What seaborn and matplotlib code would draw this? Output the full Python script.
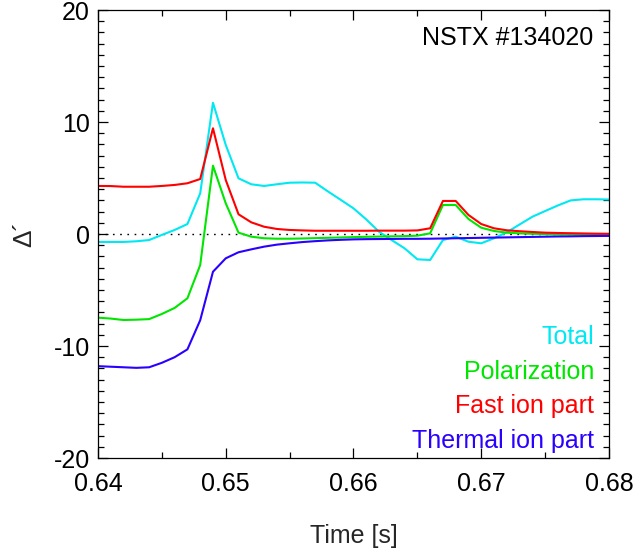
import numpy as np
import pandas as pd
import matplotlib
matplotlib.use("Agg")
import matplotlib.pyplot as plt
from matplotlib.ticker import MultipleLocator
import seaborn as sns

time = [0.640, 0.641, 0.642, 0.643, 0.644, 0.645, 0.646, 0.647, 0.648, 0.649,
        0.650, 0.651, 0.652, 0.653, 0.654, 0.655, 0.656, 0.657, 0.658, 0.659,
        0.660, 0.661, 0.662, 0.663, 0.664, 0.665, 0.666, 0.667, 0.668, 0.669,
        0.670, 0.671, 0.672, 0.673, 0.674, 0.675, 0.676, 0.677, 0.678, 0.679,
        0.680]

total = [-0.71, -0.71, -0.71, -0.65, -0.54, -0.08, 0.36, 0.89, 3.63, 11.72,
         7.95, 4.97, 4.44, 4.29, 4.44, 4.58, 4.60, 4.58, 3.80, 3.05,
         2.29, 1.30, 0.20, -0.55, -1.28, -2.26, -2.32, -0.54, -0.24, -0.69,
         -0.83, -0.38, 0.15, 0.85, 1.54, 2.05, 2.55, 3.00, 3.10, 3.10,
         3.08]

polarization = [-7.47, -7.55, -7.68, -7.65, -7.60, -7.14, -6.60, -5.74, -2.77, 6.10,
                2.74, 0.12, -0.24, -0.38, -0.42, -0.42, -0.40, -0.37, -0.34, -0.31,
                -0.28, -0.25, -0.23, -0.21, -0.19, -0.15, 0.06, 2.59, 2.59, 1.34,
                0.56, 0.27, 0.12, 0.06, 0.02, 0.00, -0.02, -0.03, -0.04, -0.05,
                -0.05]

fast_ion = [4.29, 4.28, 4.22, 4.22, 4.22, 4.29, 4.38, 4.53, 4.91, 9.44,
            4.82, 1.76, 1.04, 0.65, 0.45, 0.36, 0.32, 0.29, 0.29, 0.29,
            0.29, 0.29, 0.30, 0.30, 0.30, 0.32, 0.51, 2.95, 2.95, 1.70,
            0.89, 0.51, 0.33, 0.25, 0.18, 0.12, 0.09, 0.07, 0.05, 0.03,
            0.02]

thermal_ion = [-11.80, -11.85, -11.90, -11.95, -11.90, -11.50, -11.00, -10.30, -7.70, -3.37,
               -2.17, -1.63, -1.37, -1.13, -0.95, -0.83, -0.72, -0.64, -0.57, -0.52,
               -0.48, -0.46, -0.45, -0.44, -0.43, -0.43, -0.42, -0.40, -0.38, -0.36,
               -0.34, -0.32, -0.30, -0.28, -0.26, -0.24, -0.22, -0.21, -0.19, -0.18,
               -0.17]

labels = ["Total", "Polarization", "Fast ion part", "Thermal ion part"]
colors = ["#00e8f2", "#00e600", "#ff0000", "#2a00ff"]
x_ticks = [0.64, 0.65, 0.66, 0.67, 0.68]
y_ticks = [-20, -10, 0, 10, 20]

sns.set_style("ticks")
plt.rcParams["font.family"] = ["Liberation Sans", "DejaVu Sans"]

df = pd.DataFrame({
    "time": time * 4,
    "value": total + polarization + fast_ion + thermal_ion,
    "series": sum([[lab] * len(time) for lab in labels], []),
})

fig = plt.figure(figsize=(6.36, 5.48), dpi=100)
ax = fig.add_axes([98 / 636, 1 - 458 / 548, 511 / 636, 448 / 548])

ax.axhline(0, color="black", lw=1.0, ls=(0, (1.2, 4)), zorder=1)

sns.lineplot(data=df, x="time", y="value", hue="series", hue_order=labels,
             palette=dict(zip(labels, colors)), lw=1.5, legend=False, ax=ax,
             sort=True, estimator=None)

ax.set_xlim(0.64, 0.68)
ax.set_ylim(-20, 20)
ax.set_xticks(x_ticks)
ax.set_xticklabels([f"{v:.2f}" for v in x_ticks])
ax.set_yticks(y_ticks)
ax.set_yticklabels([str(v) for v in y_ticks])
ax.xaxis.set_minor_locator(MultipleLocator(0.005))
ax.yaxis.set_minor_locator(MultipleLocator(1))
ax.tick_params(which="both", direction="in", top=True, right=True,
               colors="black", width=0.9)
ax.tick_params(which="major", length=7, labelsize=18)
ax.tick_params(which="minor", length=4)
ax.tick_params(axis="x", which="major", pad=10)
ax.tick_params(axis="y", which="major", pad=6)
for s in ax.spines.values():
    s.set_linewidth(0.9)
    s.set_color("black")

ax.set_xlabel("Time [s]", fontsize=18, labelpad=20)
ax.set_ylabel("Δ´", fontsize=19, labelpad=12)

ax.text(0.9687, 0.9219, "NSTX #134020", transform=ax.transAxes,
        ha="right", va="baseline", fontsize=18, color="black")

baselines = [344, 379, 413.5, 448]
for lab, col, py in zip(labels, colors, baselines):
    ax.text(0.9706, (458 - py) / 448, lab, transform=ax.transAxes,
            ha="right", va="baseline", fontsize=18, color=col)

fig.savefig("out.png", dpi=100)
